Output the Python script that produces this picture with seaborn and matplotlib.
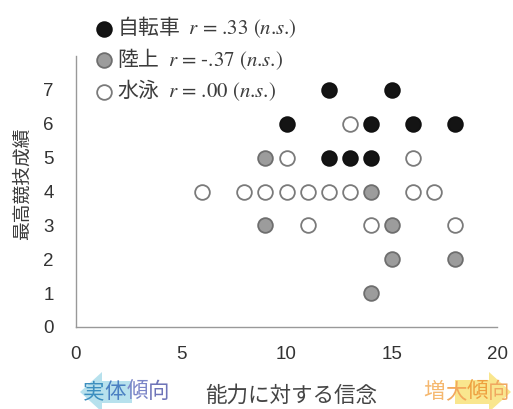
import matplotlib
matplotlib.use("Agg")
import matplotlib.pyplot as plt
from matplotlib.patches import FancyArrow
import pandas as pd
import seaborn as sns

# Sport groups: belief score (x) vs. best competition result (y)
cycle_x = [12, 15, 10, 14, 16, 18, 12, 13, 14]
cycle_y = [7, 7, 6, 6, 6, 6, 5, 5, 5]
land_x = [9, 14, 9, 15, 15, 18, 14]
land_y = [5, 4, 3, 3, 2, 2, 1]
swim_x = [13, 10, 16, 6, 8, 9, 10, 11, 12, 13, 16, 17, 11, 14, 18]
swim_y = [6, 5, 5, 4, 4, 4, 4, 4, 4, 4, 4, 4, 3, 3, 3]

groups = ["自転車", "陸上", "水泳"]
r_values = [".33", "-.37", ".00"]
x_ticks = [0, 5, 10, 15, 20]
y_ticks = [0, 1, 2, 3, 4, 5, 6, 7]

face_colors = ["#141414", "#9c9c9c", "#ffffff"]
edge_colors = ["#111111", "#6e6e6e", "#7a7a7a"]

sns.set_style("white")
plt.rcParams["font.family"] = ["Noto Sans CJK JP", "DejaVu Sans"]
plt.rcParams["mathtext.fontset"] = "stix"


def r_label(v):
    return r"$r\text{ = " + v + r" (}n\text{.}s\text{.)}$"


df = pd.concat([
    pd.DataFrame({"x": cycle_x, "y": cycle_y, "group": groups[0]}),
    pd.DataFrame({"x": land_x, "y": land_y, "group": groups[1]}),
    pd.DataFrame({"x": swim_x, "y": swim_y, "group": groups[2]}),
])

fig = plt.figure(figsize=(5.13, 4.09), dpi=100)
ax = fig.add_axes([0.148, 0.2005, 0.821, 0.6625])

for g, v, fc, ec in zip(groups, r_values, face_colors, edge_colors):
    sub = df[df["group"] == g]
    sns.scatterplot(data=sub, x="x", y="y", ax=ax, s=112, color=fc,
                    edgecolor=ec, linewidth=1.3, label=f"{g}  {r_label(v)}",
                    legend=False, zorder=3)

ax.set_xlim(0, 20)
ax.set_ylim(0, 8)
ax.set_xticks(x_ticks)
ax.set_yticks(y_ticks)
ax.set_xticklabels([str(t) for t in x_ticks], family="Liberation Sans")
ax.set_yticklabels([str(t) for t in y_ticks], family="Liberation Sans")
ax.tick_params(axis="both", direction="in", length=4, width=1,
               color="#888888", labelsize=13.5, labelcolor="#333333")
ax.tick_params(axis="x", pad=14)
ax.tick_params(axis="y", pad=16)

for side in ["top", "right"]:
    ax.spines[side].set_visible(False)
for side in ["left", "bottom"]:
    ax.spines[side].set_color("#999999")
    ax.spines[side].set_linewidth(1.0)

ax.set_ylabel("最高競技成績", fontsize=13.5, color="#3a3a3a")
ax.yaxis.set_label_coords(-0.128, 0.53)
ax.yaxis.label.set_va("center")
ax.set_xlabel("能力に対する信念", fontsize=15.5, color="#444444")
ax.xaxis.set_label_coords(0.512, -0.255)
ax.xaxis.label.set_va("center")

handles, labels = ax.get_legend_handles_labels()
leg = fig.legend(handles, labels, loc="upper left",
                 bbox_to_anchor=(0.188, 0.965), frameon=False,
                 borderpad=0, borderaxespad=0, handlelength=0.7,
                 handletextpad=0.3, labelspacing=0.28, fontsize=15)
for t in leg.get_texts():
    t.set_color("#3c3c3c")

# Direction hints under the x axis
px = fig.dpi_scale_trans
fig.patches.append(FancyArrow(1.32, 0.17, -0.52, 0, width=0.22,
                              head_width=0.40, head_length=0.22,
                              length_includes_head=True, transform=px,
                              color="#9fd8e8", alpha=0.75, lw=0, zorder=0))
fig.patches.append(FancyArrow(4.55, 0.17, 0.56, 0, width=0.24,
                              head_width=0.40, head_length=0.22,
                              length_includes_head=True, transform=px,
                              color="#f8e27a", alpha=0.85, lw=0, zorder=0))

left_chars = list("実体傾向")
left_colors = ["#3c8fbf", "#4a80c2", "#7c86c8", "#6e74b8"]
right_chars = list("増大傾向")
right_colors = ["#f5b870", "#f2a85c", "#eea040", "#f0a860"]
char_w = 21.7
y_px = 409 - 392
for i, (c, col) in enumerate(zip(left_chars, left_colors)):
    fig.text((83 + char_w / 2 + i * char_w) / 513, y_px / 409, c,
             ha="center", va="center", fontsize=15.5, color=col)
for i, (c, col) in enumerate(zip(right_chars, right_colors)):
    fig.text((423 + char_w / 2 + i * char_w) / 513, y_px / 409, c,
             ha="center", va="center", fontsize=15.5, color=col)

fig.savefig("out.png", dpi=100)
